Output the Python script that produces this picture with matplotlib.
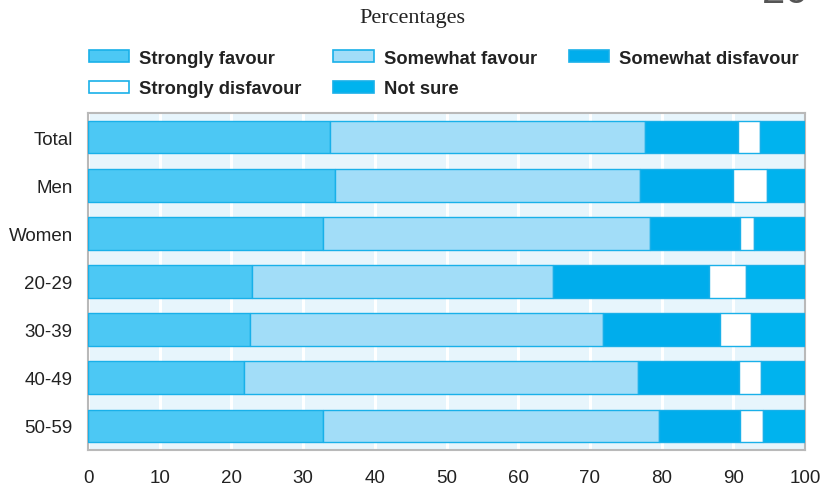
import matplotlib.pyplot as plt
import numpy as np
from matplotlib.patches import Patch

# survey shares per group (percent)
groups = ['Total', 'Men', 'Women', '20-29', '30-39', '40-49', '50-59']
strongly_favour = [33.7, 34.4, 32.8, 22.9, 22.6, 21.8, 32.8]
somewhat_favour = [44.0, 42.6, 45.6, 42.0, 49.2, 54.9, 46.9]
somewhat_disfavour = [12.9, 13.0, 12.6, 21.7, 16.4, 14.1, 11.3]
strongly_disfavour = [3.15, 4.7, 1.9, 5.2, 4.2, 3.0, 3.1]
not_sure = [6.25, 5.3, 7.1, 8.2, 7.6, 6.2, 5.9]
xticks = [0, 10, 20, 30, 40, 50, 60, 70, 80, 90, 100]

series = [
    ('Strongly favour', strongly_favour, '#4cc8f4'),
    ('Somewhat favour', somewhat_favour, '#a2ddf8'),
    ('Somewhat disfavour', somewhat_disfavour, '#00adec'),
    ('Strongly disfavour', strongly_disfavour, '#ffffff'),
    ('Not sure', not_sure, '#00b3ee'),
]
edge = '#19b0e9'

plt.rcParams['font.family'] = ['Liberation Sans', 'DejaVu Sans']

fig = plt.figure(figsize=(8.21, 4.89), dpi=100)
ax = fig.add_axes([88 / 821, 1 - 451 / 489, 717 / 821, 337 / 489])
ax.set_facecolor('#e7f5fc')

y = np.arange(len(groups))
left = np.zeros(len(groups))
for name, vals, col in series:
    vals = np.array(vals)
    ax.barh(y, vals, left=left, height=0.68, color=col, edgecolor=edge,
            linewidth=1.0, label=name, zorder=3)
    left += vals

ax.set_xlim(0, 100)
ax.set_ylim(len(groups) - 0.5, -0.5)
ax.set_xticks(xticks)
ax.set_yticks(y)
ax.set_yticklabels(groups, fontsize=13.5)
ax.tick_params(axis='x', labelsize=13.5, length=0, pad=14, colors='#222222')
ax.tick_params(axis='y', length=0, pad=11, colors='#222222')
ax.grid(axis='x', color='white', linewidth=2.2, zorder=1)
ax.set_axisbelow(True)
for s in ax.spines.values():
    s.set_color('#b9b9b9')
    s.set_linewidth(1.5)

fig.text(412 / 821, 1 - 19 / 489, 'Percentages', ha='center', va='center',
         fontsize=16, family=['Liberation Serif', 'DejaVu Serif'], color='#222222')
fig.text(762 / 821, 1 + 8 / 489, '26', ha='left', va='center', fontsize=30,
         color='#555555')

# reorder so matplotlib's column-major fill reads row by row
handles = [Patch(facecolor=c, edgecolor=edge, linewidth=1.2) for _, _, c in series]
labels = [n for n, _, _ in series]
order = [0, 3, 1, 4, 2]
fig.legend([handles[i] for i in order], [labels[i] for i in order], ncol=3,
           loc='upper left', bbox_to_anchor=(72 / 821, 1 - 34 / 489),
           frameon=False, prop={'weight': 'bold', 'size': 13.2},
           handlelength=2.2, handleheight=0.6, handletextpad=0.55,
           columnspacing=1.75, labelspacing=0.75, labelcolor='#222222')

fig.savefig('out.png', dpi=100)
